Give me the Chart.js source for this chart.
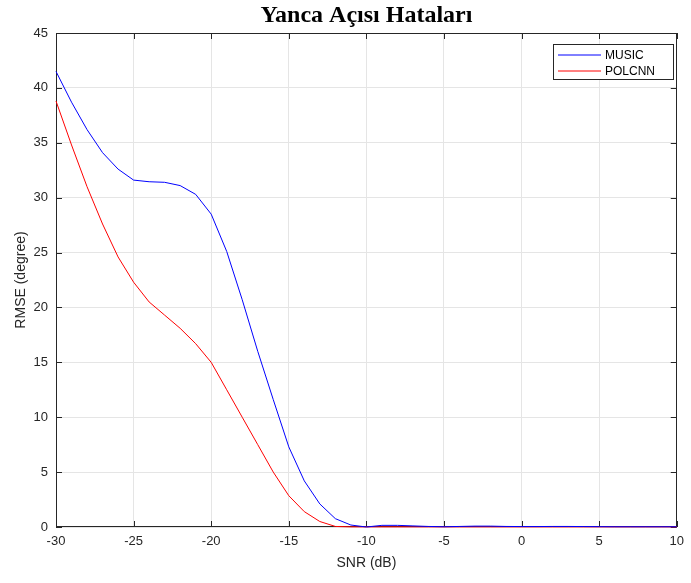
<!DOCTYPE html>
<html>
<head>
<meta charset="utf-8">
<script src="https://cdn.jsdelivr.net/npm/chart.js@4/dist/chart.umd.min.js"></script>
<style>
  body { margin: 0; background: #fff; }
  #wrap { width: 691px; height: 583px; }
</style>
</head>
<body>
<div id="wrap"><canvas id="myChart" width="691" height="583"></canvas></div>
<script>
const snrValues = [-30, -29, -28, -27, -26, -25, -24, -23, -22, -21, -20, -19, -18, -17, -16, -15, -14, -13, -12, -11, -10,
    -9, -8, -7, -6, -5, -4, -3, -2, -1, 0, 1, 2, 3, 4, 5, 6, 7, 8, 9, 10];
const musicRmse = [41.5, 38.7, 36.2, 34.1, 32.6, 31.6, 31.45, 31.4, 31.1, 30.3, 28.5, 25.1, 20.7, 16.0, 11.6, 7.3, 4.2, 2.1, 0.76, 0.18, 0.0,
    0.15, 0.15, 0.1, 0.05, 0.02, 0.05, 0.08, 0.08, 0.05, 0.04, 0.04, 0.05, 0.05, 0.04, 0.03, 0.02, 0.02, 0.02, 0.02, 0.02];
const polcnnRmse = [38.8, 34.8, 31.0, 27.6, 24.6, 22.3, 20.5, 19.3, 18.1, 16.7, 15.0, 12.5, 10.0, 7.5, 5.0, 2.85, 1.4, 0.5, 0.05, 0.01, 0.01,
    0.01, 0.01, 0.01, 0.01, 0.01, 0.01, 0.01, 0.01, 0.01, 0.01, 0.01, 0.01, 0.01, 0.01, 0.01, 0.01, 0.01, 0.01, 0.01, 0.01];
const xTicks = [-30, -25, -20, -15, -10, -5, 0, 5, 10];
const yTicks = [0, 5, 10, 15, 20, 25, 30, 35, 40, 45];
const seriesNames = ["MUSIC", "POLCNN"];
const seriesColors = ["#0000ff", "#ff0000"];

const axisColor = "#262626";
const font = "Liberation Sans, Arial, sans-serif";

function toPoints(ys) {
    return snrValues.map((x, i) => ({ x: x, y: ys[i] }));
}

// box around the axes with inward ticks, drawn under the lines
const matlabBox = {
    id: "matlabBox",
    beforeDatasetsDraw(chart) {
        const ctx = chart.ctx;
        const a = chart.chartArea;
        const xs = chart.scales.x, ys = chart.scales.y;
        ctx.save();
        ctx.strokeStyle = axisColor;
        ctx.lineWidth = 1;
        ctx.beginPath();
        xTicks.forEach(t => {
            const px = Math.round(xs.getPixelForValue(t)) + 0.5;
            ctx.moveTo(px, a.bottom); ctx.lineTo(px, a.bottom - 6);
            ctx.moveTo(px, a.top); ctx.lineTo(px, a.top + 6);
        });
        yTicks.forEach(t => {
            const py = Math.round(ys.getPixelForValue(t)) + 0.5;
            ctx.moveTo(a.left, py); ctx.lineTo(a.left + 6, py);
            ctx.moveTo(a.right, py); ctx.lineTo(a.right - 6, py);
        });
        ctx.stroke();
        ctx.strokeRect(Math.round(a.left) + 0.5, Math.round(a.top) + 0.5,
            Math.round(a.right - a.left) - 1, Math.round(a.bottom - a.top) - 1);
        ctx.restore();
    },
    // legend box in the upper right corner
    afterDraw(chart) {
        const ctx = chart.ctx;
        const a = chart.chartArea;
        const lx = Math.round(a.right) - 124, ly = Math.round(a.top) + 11, lw = 120, lh = 35;
        ctx.save();
        ctx.fillStyle = "#fff";
        ctx.fillRect(lx, ly, lw, lh);
        ctx.lineWidth = 1;
        ctx.strokeStyle = axisColor;
        ctx.strokeRect(lx + 0.5, ly + 0.5, lw, lh);
        ctx.font = "12px " + font;
        ctx.textBaseline = "middle";
        for (let i = 0; i < seriesNames.length; i++) {
            const yy = ly + 11 + i * 16;
            ctx.strokeStyle = seriesColors[i];
            ctx.beginPath();
            ctx.moveTo(lx + 5, yy);
            ctx.lineTo(lx + 48, yy);
            ctx.stroke();
            ctx.fillStyle = "#000";
            ctx.fillText(seriesNames[i], lx + 52, yy + 1);
        }
        ctx.restore();
    }
};

const ctx = document.getElementById("myChart").getContext("2d");
new Chart(ctx, {
    type: "line",
    data: {
        datasets: [
            {
                label: seriesNames[0],
                data: toPoints(musicRmse),
                borderColor: seriesColors[0],
                borderWidth: 1,
                pointRadius: 0,
                tension: 0,
                clip: 3
            },
            {
                label: seriesNames[1],
                data: toPoints(polcnnRmse),
                borderColor: seriesColors[1],
                borderWidth: 1,
                pointRadius: 0,
                tension: 0,
                clip: 3
            }
        ]
    },
    options: {
        responsive: false,
        animation: false,
        layout: { padding: { left: 0, right: 10, top: 0, bottom: 0 } },
        plugins: {
            legend: { display: false },
            tooltip: { enabled: false },
            title: {
                display: true,
                text: "Yanca Açısı Hataları",
                fullSize: false,
                color: "#000",
                font: { family: "Liberation Serif, Times New Roman, serif", size: 24, weight: "bold", lineHeight: 1.15 },
                padding: { top: 2, bottom: 3.4 }
            }
        },
        scales: {
            x: {
                type: "linear",
                min: -30,
                max: 10,
                afterBuildTicks: s => { s.ticks = xTicks.map(v => ({ value: v })); },
                afterFit: s => { s.height = 56; },
                grid: { color: "#e5e5e5", drawTicks: false },
                border: { display: false },
                ticks: { color: axisColor, font: { family: font, size: 13 }, padding: 7, maxRotation: 0 },
                title: { display: true, text: "SNR (dB)", color: axisColor, font: { family: font, size: 14 }, padding: { top: 0, bottom: 11 } }
            },
            y: {
                min: 0,
                max: 45,
                afterBuildTicks: s => { s.ticks = yTicks.map(v => ({ value: v })); },
                afterFit: s => { s.width = 56; },
                grid: { color: "#e5e5e5", drawTicks: false },
                border: { display: false },
                ticks: { color: axisColor, font: { family: font, size: 13 }, padding: 8 },
                title: { display: true, text: "RMSE (degree)", color: axisColor, font: { family: font, size: 14 }, padding: { top: 13, bottom: 0 } }
            }
        }
    },
    plugins: [matlabBox]
});
</script>
</body>
</html>
